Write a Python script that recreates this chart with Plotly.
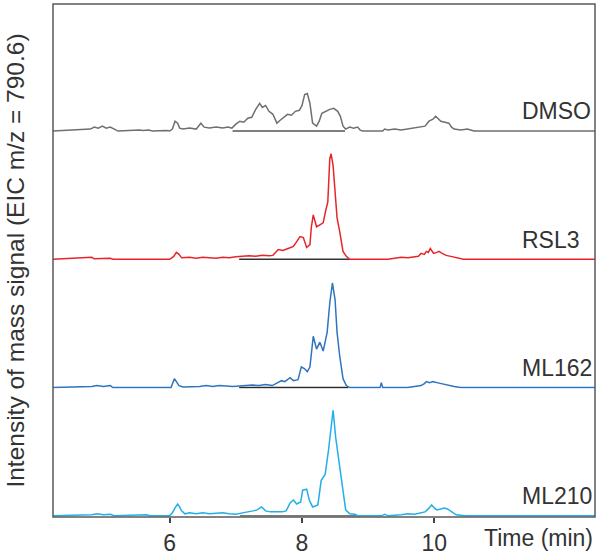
import plotly.graph_objects as go
from plotly.subplots import make_subplots

# ---- data (time in min, intensity in arbitrary units; panel full scale = 130) ----
samples = ["DMSO", "RSL3", "ML162", "ML210"]
colors = ["#6f6f6f", "#e8242a", "#2f74c0", "#22aee8"]

dmso_t = [4.235, 4.80, 4.86, 4.92, 4.98, 5.04, 5.10, 5.16, 5.22, 5.54, 5.60, 5.68, 5.74, 5.95, 6.00,
          6.04, 6.08, 6.12, 6.15, 6.20, 6.30, 6.40, 6.47, 6.52, 6.60, 6.70, 6.80, 6.88, 6.94,
          7.00, 7.06, 7.12, 7.18, 7.24, 7.30, 7.36, 7.40, 7.45, 7.50, 7.56, 7.62, 7.67, 7.72,
          7.78, 7.84, 7.90, 7.96, 8.00, 8.04, 8.08, 8.12, 8.16, 8.22, 8.26, 8.30, 8.36, 8.42,
          8.48, 8.54, 8.58, 8.62, 8.66, 8.72, 8.78, 8.84, 8.88, 8.92,
          9.22, 9.25, 9.30, 9.40, 9.50, 9.60, 9.70, 9.80, 9.86, 9.92, 9.98, 10.02, 10.06,
          10.10, 10.16, 10.22, 10.26, 10.30, 10.40, 10.50, 10.60, 12.43]
dmso_y = [0, 2, 4, 3, 5, 3, 4, 2, 0, 1, 0.5, 1, 0, 0.5, 0,
          2, 10, 8, 3, 2, 3, 2, 8, 4, 3, 4, 3, 4, 3,
          7, 10, 9, 13, 14, 22, 28, 24, 26, 20, 17, 8, 11, 14,
          17, 16, 20, 21, 26, 37, 38, 28, 8, 5, 10, 18, 20, 22,
          23, 20, 15, 5, 2, 4, 3, 4, 1, 0,
          0, 2, 1, 2, 1, 2, 3, 4, 5, 10, 12, 15, 12,
          10, 9, 8, 4, 2, 1, 2, 0, 0]

rsl3_t = [4.235, 4.82, 4.86, 5.10, 5.14, 6.00, 6.06, 6.10, 6.14, 6.18, 6.30, 6.40, 6.50, 6.60,
          6.70, 6.80, 6.90, 7.00, 7.10, 7.20, 7.30, 7.40, 7.50, 7.56, 7.64, 7.71, 7.79, 7.87,
          7.92, 7.97, 8.02, 8.07, 8.12, 8.14, 8.17, 8.19, 8.22, 8.27, 8.32, 8.36, 8.39, 8.42,
          8.44, 8.47, 8.50, 8.53, 8.57, 8.62, 8.67, 8.72,
          9.30, 9.40, 9.50, 9.60, 9.70, 9.76, 9.80, 9.85, 9.88, 9.91, 9.94, 9.99, 10.04,
          10.07, 10.12, 10.18, 10.25, 10.35, 10.44, 12.43]
rsl3_y = [0, 2, 0.5, 1, 0, 0, 3, 7, 5, 1.5, 2, 1, 2, 1.5,
          1, 2, 1.5, 2.5, 3, 3.5, 3, 4, 3.5, 4, 10, 9, 11, 13,
          18, 23, 22, 12, 15, 32, 45, 40, 33, 35, 37, 50, 58, 102,
          107, 95, 72, 42, 28, 8, 3, 0,
          0, 1, 2, 1.5, 2, 3, 6, 5, 8, 7, 11, 6, 7,
          8, 6, 4, 3, 1.5, 0, 0]

ml162_t = [4.235, 4.82, 4.90, 5.00, 5.10, 5.14, 6.02, 6.07, 6.10, 6.14, 6.20, 6.45, 6.55, 6.65,
           6.75, 6.85, 6.95, 7.05, 7.15, 7.25, 7.35, 7.45, 7.55, 7.61, 7.69, 7.74, 7.82, 7.87,
           7.94, 7.99, 8.04, 8.08, 8.12, 8.17, 8.22, 8.27, 8.32, 8.38, 8.42, 8.46, 8.50, 8.53,
           8.57, 8.62, 8.67, 8.72, 9.18, 9.20, 9.22, 9.60, 9.70, 9.80, 9.85, 9.88, 9.93, 9.98,
           10.04, 10.10, 10.15, 10.20, 10.30, 10.40, 12.43]
ml162_y = [0, 1, 2, 1, 2, 0, 0, 9, 6, 2, 0.5, 1, 2, 1,
           2, 1.5, 1, 1.5, 2, 2.5, 2, 3, 2, 4, 7, 6, 10, 7,
           8, 21, 19, 16, 21, 52, 39, 46, 37, 56, 86, 106, 89, 56,
           32, 9, 2, 0, 0, 5, 0, 0, 1, 2, 4, 6, 5, 6,
           5, 4, 3, 2, 1, 0, 0]

ml210_t = [4.235, 4.82, 4.90, 5.00, 5.10, 5.16, 5.65, 5.70, 6.00, 6.04, 6.08, 6.12, 6.15, 6.18,
           6.23, 6.30, 6.40, 6.50, 6.60, 6.70, 6.80, 6.90, 7.00, 7.10, 7.20, 7.26, 7.32, 7.39,
           7.45, 7.52, 7.60, 7.70, 7.76, 7.82, 7.87, 7.92, 7.98, 8.01, 8.07, 8.11, 8.16, 8.24,
           8.29, 8.35, 8.40, 8.44, 8.47, 8.51, 8.56, 8.61, 8.66, 8.72, 8.80, 8.85,
           9.20, 9.25, 9.30, 9.50, 9.60, 9.70, 9.80, 9.86, 9.91, 9.96, 10.00, 10.04, 10.10,
           10.15, 10.20, 10.25, 10.33, 10.47, 12.43]
ml210_y = [0, 1, 2, 1, 1.5, 0, 1, 0, 0, 3, 8, 12, 9, 5,
           2, 3, 2, 3, 2, 2.5, 3, 2, 1.5, 3, 4, 5, 6, 9,
           5, 4, 4, 4, 5, 13, 16, 12, 14, 26, 27, 16, 9, 11,
           36, 42, 66, 89, 107, 79, 56, 32, 6, 2, 1.5, 0,
           0, 1.5, 0, 1, 2, 1.5, 3, 4, 7, 11, 8, 6, 7,
           8, 7, 5, 1, 0, 0]

# integration baseline segments (start, end in min)
seg_start = [6.95, 7.05, 7.05, 7.06]
seg_end = [8.65, 8.72, 8.70, 8.87]
seg_colors = ["#555555", "#333333", "#2b2b2b", "#7a7a7a"]

x_range = [4.235, 12.43]
tick_vals = [6, 8, 10]
tick_text = ["6", "8", "10"]

series_t = [dmso_t, rsl3_t, ml162_t, ml210_t]
series_y = [dmso_y, rsl3_y, ml162_y, ml210_y]

FONT = "Arial, Liberation Sans, sans-serif"
TXT = "#333333"

fig = make_subplots(rows=4, cols=1, shared_xaxes=True, vertical_spacing=0)

for i in range(4):
    r = i + 1
    fig.add_trace(go.Scatter(x=[seg_start[i], seg_end[i]], y=[0, 0], mode="lines",
                             line=dict(color=seg_colors[i], width=1.6), showlegend=False,
                             hoverinfo="skip"), row=r, col=1)
    fig.add_trace(go.Scatter(x=series_t[i], y=series_y[i], mode="lines", name=samples[i],
                             line=dict(color=colors[i], width=1.5), showlegend=False),
                  row=r, col=1)
    fig.update_yaxes(range=[-1.2, 128.8], showticklabels=False, showgrid=False,
                     zeroline=False, showline=False, ticks="", row=r, col=1)
    fig.update_xaxes(range=x_range, showgrid=False, zeroline=False, showline=False,
                     row=r, col=1)
    yref = "y" if r == 1 else f"y{r}"
    fig.add_annotation(x=0.8616, xref="paper", xanchor="left", y=20, yref=yref,
                       yanchor="middle", text=samples[i], showarrow=False,
                       font=dict(family=FONT, size=23, color=TXT))

fig.update_xaxes(tickvals=tick_vals, ticktext=tick_text, ticks="outside", ticklen=5,
                 tickwidth=1.5, tickcolor="#444", showticklabels=True,
                 tickfont=dict(family=FONT, size=23, color=TXT), row=4, col=1)

fig.add_shape(type="rect", xref="paper", yref="paper", x0=0, x1=1, y0=0, y1=1,
              line=dict(color="#5a5a5a", width=1.5), layer="above")

fig.add_annotation(x=1.0, xref="paper", xanchor="right", y=-0.04, yref="paper",
                   yanchor="middle", text="Time (min)", showarrow=False,
                   font=dict(family=FONT, size=23, color=TXT))
fig.add_annotation(x=-0.07, xref="paper", xanchor="center", y=0.5, yref="paper",
                   yanchor="middle", text="Intensity of mass signal (EIC m/z = 790.6)",
                   textangle=-90, showarrow=False,
                   font=dict(family=FONT, size=24.5, color=TXT))

fig.update_layout(width=600, height=560, margin=dict(l=53, r=5, t=4, b=38),
                  paper_bgcolor="white", plot_bgcolor="white")

fig.write_html("out.html", config={"displayModeBar": False},
               post_script="document.body.style.margin='0';document.body.style.overflow='hidden';")
